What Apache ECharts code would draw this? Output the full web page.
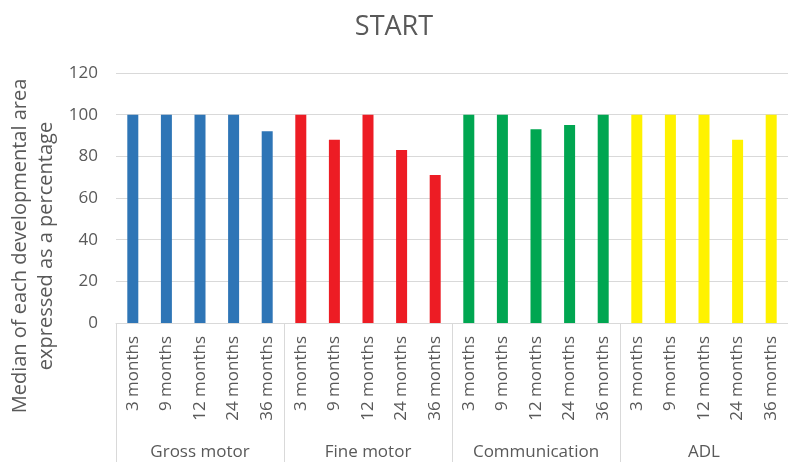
<!DOCTYPE html>
<html>
<head>
<meta charset="utf-8">
<script src="https://cdn.jsdelivr.net/npm/echarts@6/dist/echarts.min.js"></script>
<style>
  html, body { margin: 0; padding: 0; background: #fff; }
  #chart { width: 788px; height: 462px; }
</style>
</head>
<body>
<div id="chart"></div>
<script>
// Age points measured within each developmental area
const months = ['3 months', '9 months', '12 months', '24 months', '36 months'];
// Developmental areas (outer category level)
const areas = ['Gross motor', 'Fine motor', 'Communication', 'ADL'];
// Median score per area, as a percentage, one value per age point
const grossMotor = [100, 100, 100, 100, 92];
const fineMotor = [100, 88, 100, 83, 71];
const communication = [100, 100, 93, 95, 100];
const adl = [100, 100, 100, 88, 100];
// Y axis scale
const yMin = 0, yMax = 120, yStep = 20;

const areaValues = [grossMotor, fineMotor, communication, adl];
const areaColors = ['#2E75B6', '#ED1C24', '#00A651', '#FFF200'];
const textColor = '#595959';
const lineColor = '#D9D9D9';
const font = '"Open Sans", "Noto Sans", sans-serif';

// Flatten into one category per (area, age) pair
const categories = [];
const barData = [];
areas.forEach((area, gi) => {
  months.forEach((m, mi) => {
    categories.push(m);
    barData.push({ value: areaValues[gi][mi], itemStyle: { color: areaColors[gi] } });
  });
});

const chart = echarts.init(document.getElementById('chart'), null, { renderer: 'canvas' });
chart.setOption({
  animation: false,
  backgroundColor: '#fff',
  title: {
    text: 'START',
    left: 'center',
    top: 9,
    textStyle: { fontFamily: font, fontSize: 27, fontWeight: 'normal', color: textColor }
  },
  grid: { left: 116, right: -4, top: 73, bottom: 139, containLabel: false },
  xAxis: [
    {
      type: 'category',
      data: categories,
      axisLine: { show: true, lineStyle: { color: lineColor, width: 1 } },
      axisTick: { show: false },
      axisLabel: {
        interval: 0, rotate: 90, margin: 13,
        fontFamily: font, fontSize: 17, color: textColor
      },
      splitLine: { show: false }
    },
    {
      type: 'category',
      data: areas,
      position: 'bottom',
      axisLine: { show: false },
      axisTick: { show: true, interval: 0, length: 139, lineStyle: { color: lineColor, width: 1 } },
      axisLabel: {
        interval: 0, margin: 121,
        fontFamily: font, fontSize: 17, color: textColor
      },
      splitLine: { show: false }
    }
  ],
  yAxis: {
    type: 'value',
    min: yMin, max: yMax, interval: yStep,
    axisLine: { show: false },
    axisTick: { show: false },
    axisLabel: { margin: 18, fontFamily: font, fontSize: 17, color: textColor },
    splitLine: { show: true, lineStyle: { color: lineColor, width: 1 } }
  },
  graphic: [{
    type: 'text',
    x: 33, y: 246,
    rotation: Math.PI / 2,
    style: {
      text: 'Median of each developmental area\nexpressed as a percentage',
      fontFamily: font, fontSize: 20, lineHeight: 26,
      fill: textColor,
      align: 'center', verticalAlign: 'middle'
    }
  }],
  series: [{
    type: 'bar',
    xAxisIndex: 0,
    data: barData,
    barWidth: 11
  }]
});
</script>
</body>
</html>
